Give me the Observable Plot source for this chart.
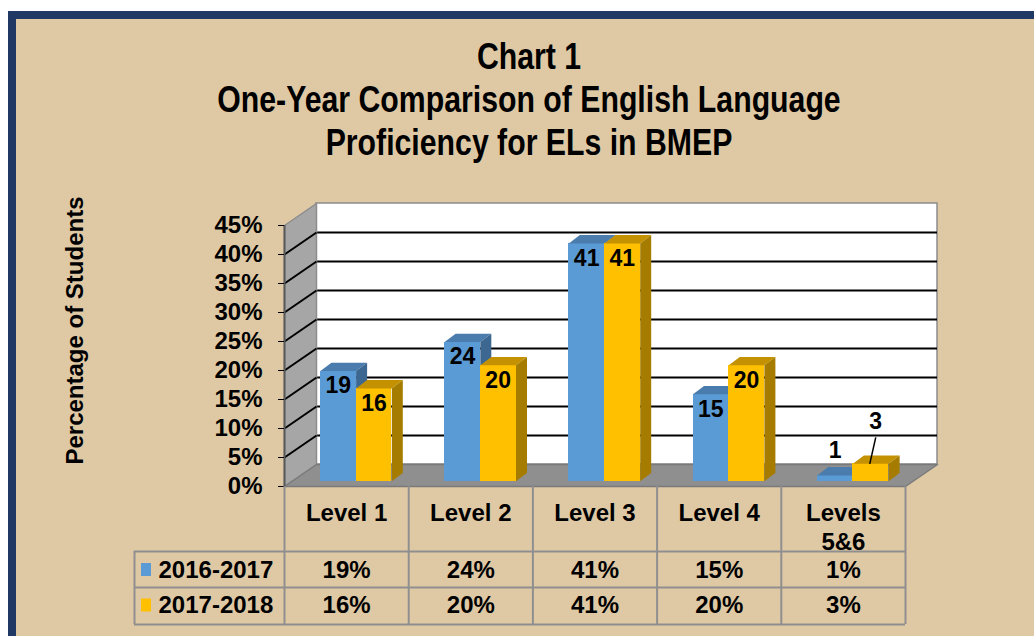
<!DOCTYPE html>
<html><head><meta charset="utf-8">
<script src="https://cdn.jsdelivr.net/npm/d3@7"></script>
<script src="https://cdn.jsdelivr.net/npm/@observablehq/plot@0.6"></script>
<style>
html,body{margin:0;padding:0;background:#fff;width:1034px;height:636px;overflow:hidden;font-family:"Liberation Sans",Arial,sans-serif;}
#frame{position:absolute;left:8px;top:11px;width:1026px;height:625px;box-sizing:border-box;background:#DFC9A5;border-top:8px solid #1F3864;border-left:8px solid #1F3864;}
#title{position:absolute;left:16px;top:35px;width:1026px;text-align:center;font-weight:bold;font-size:36px;line-height:43px;color:#000;transform:scaleX(0.84);transform-origin:50% 50%;}
#chart{position:absolute;left:0;top:170px;}
</style></head><body>
<div id="frame"></div>
<div id="title"><div>Chart 1</div><div>One-Year Comparison of English Language</div><div>Proficiency for ELs in BMEP</div></div>
<div id="chart"></div>
<script>
const categories = ["Level 1", "Level 2", "Level 3", "Level 4", "Levels 5&6"];
const seriesNames = ["2016-2017", "2017-2018"];
const values2016 = [19, 24, 41, 15, 1];
const values2017 = [16, 20, 41, 20, 3];
const yTicks = [0, 5, 10, 15, 20, 25, 30, 35, 40, 45];
const yAxisTitle = "Percentage of Students";
const frontColors = ["#5B9BD5", "#FFC000"];
const topColors = ["#4A7DAD", "#C49200"];
const sideColors = ["#3C6790", "#A67C00"];

// layout (page pixels)
const W = 1034, H = 466, TOP = 170;
const frontLeft = 284, frontRight = 905, baseY = 486, topY = 225;
const n = categories.length;
const yMax = d3.max(yTicks);
const pxPerX = (frontRight - frontLeft) / n;
const pxPerY = (baseY - topY) / yMax;
const X = px => (px - frontLeft) / pxPerX;
const Y = py => (baseY - py) / pxPerY;
const ux = px => px / pxPerX, uy = px => px / pxPerY;

const wallDX = ux(32), wallDY = uy(22);
const barOffX = ux(9.5), barBase = uy(5.3), barW = ux(35.7), barDX = ux(11), barDY = uy(8.3);

const seriesValues = [values2016, values2017];
const bars = [];
categories.forEach((c, i) => seriesValues.forEach((vals, s) => {
  const x1 = i + 0.5 - barW + s * barW + barOffX;
  bars.push({cat: c, s, v: vals[i], x1, x2: x1 + barW, xc: x1 + barW / 2, b: barBase, t: vals[i] + barBase});
}));

const poly = (pts, fill, stroke = "none", sw = 1) =>
  Plot.line(pts, {x: d => d[0], y: d => d[1], fill, stroke, strokeWidth: sw, curve: "linear-closed"});

const inner = yTicks.filter(t => t > 0 && t < yMax);
const marks = [];
// back wall
marks.push(Plot.rect([0], {x1: () => wallDX, x2: () => n + wallDX, y1: () => wallDY, y2: () => yMax + wallDY, fill: "white", stroke: "#8C8C8C", strokeWidth: 1.5}));
marks.push(Plot.ruleY(inner, {y: d => d + wallDY, x1: () => wallDX, x2: () => n + wallDX, stroke: "#000", strokeWidth: 2}));
// left wall
marks.push(poly([[0, 0], [0, yMax], [wallDX, yMax + wallDY], [wallDX, wallDY]], "#A6A6A6", "#8C8C8C", 1.5));
marks.push(Plot.link(inner, {x1: () => 0, y1: d => d, x2: () => wallDX, y2: d => d + wallDY, stroke: "#000", strokeWidth: 2}));
// floor
marks.push(poly([[0, 0], [n, 0], [n + wallDX, wallDY], [wallDX, wallDY]], "#8F8F8F", "#7A7A7A", 1.5));
// bars
for (const b of bars) {
  marks.push(Plot.rect([b], {x1: "x1", x2: "x2", y1: "b", y2: "t", fill: frontColors[b.s], shapeRendering: "crispEdges"}));
  marks.push(poly([[b.x1, b.t], [b.x2, b.t], [b.x2 + barDX, b.t + barDY], [b.x1 + barDX, b.t + barDY]], topColors[b.s]));
  marks.push(poly([[b.x2, b.b], [b.x2, b.t], [b.x2 + barDX, b.t + barDY], [b.x2 + barDX, b.b + barDY]], sideColors[b.s]));
}
// data labels
const big = bars.filter(b => b.v >= 5);
marks.push(Plot.text(big, {x: "xc", y: "t", text: d => String(d.v), dy: 15, fontSize: 23, fontWeight: "bold", fill: "#000"}));
const small0 = bars.filter(b => b.v < 5 && b.s === 0);
const small1 = bars.filter(b => b.v < 5 && b.s === 1);
marks.push(Plot.text(small0, {x: "xc", y: "t", text: d => String(d.v), dy: -25, fontSize: 23, fontWeight: "bold", fill: "#000"}));
marks.push(Plot.text(small1, {x: "xc", y: "t", text: d => String(d.v), dx: 5, dy: -42, fontSize: 23, fontWeight: "bold", fill: "#000"}));
marks.push(Plot.link(small1, {x1: d => d.xc + ux(5), y1: d => d.t + uy(26.5), x2: d => d.xc - ux(1), y2: "t", stroke: "#000", strokeWidth: 1.5}));
// y axis
marks.push(Plot.ruleX([0], {y1: 0, y2: yMax, stroke: "#595959", strokeWidth: 2}));
marks.push(Plot.axisY(yTicks, {tickFormat: d => d + "%", tickSize: 6, tickPadding: 16, label: null, fontSize: 24, fontWeight: "bold", stroke: "#000", fill: "#000"}));
marks.push(Plot.text([yAxisTitle], {x: () => X(75), y: () => Y(330), text: d => d, rotate: -90, fontSize: 24, fontWeight: "bold", fill: "#000"}));
// data table
const tableGray = "#8F8F8F";
const rowLines = [551, 587, 624];
marks.push(Plot.ruleY(rowLines, {y: d => Y(d), x1: () => X(134), x2: () => n, stroke: tableGray, strokeWidth: 2}));
marks.push(Plot.ruleX(d3.range(n + 1), {x: d => d, y1: () => 0, y2: () => Y(624), stroke: tableGray, strokeWidth: 2}));
marks.push(Plot.ruleX([0], {x: () => X(134), y1: () => Y(551), y2: () => Y(624), stroke: tableGray, strokeWidth: 2}));
marks.push(Plot.text(categories, {x: (d, i) => i + 0.5, y: () => Y(501), text: d => d.replace(/^Levels /, "Levels\n"), lineAnchor: "top", lineHeight: 1.17, fontSize: 24, fontWeight: "bold", fill: "#000"}));
const rowCenters = [569.5, 605];
seriesValues.forEach((vals, s) => {
  marks.push(Plot.text(vals, {x: (d, i) => i + 0.5, y: () => Y(rowCenters[s]), text: d => d + "%", fontSize: 24, fontWeight: "bold", fill: "#000"}));
});
marks.push(Plot.rect(seriesNames, {x1: () => X(141), x2: () => X(151), y1: (d, s) => Y(rowCenters[s] + 6.5), y2: (d, s) => Y(rowCenters[s] - 6.5), fill: (d, s) => frontColors[s]}));
marks.push(Plot.text(seriesNames, {x: () => X(158), y: (d, s) => Y(rowCenters[s]), text: d => d, textAnchor: "start", fontSize: 24, fontWeight: "bold", fill: "#000"}));

const chart = Plot.plot({
  width: W, height: H,
  marginLeft: frontLeft, marginRight: W - frontRight,
  marginTop: topY - TOP, marginBottom: TOP + H - baseY,
  x: {domain: [0, n], axis: null},
  y: {domain: [0, yMax]},
  color: {type: "identity"},
  style: {background: "transparent", fontFamily: "'Liberation Sans', Arial, sans-serif", fontSize: "24px", fontWeight: "bold", color: "#000", overflow: "visible"},
  marks
});
document.getElementById("chart").appendChild(chart);
</script></body></html>
